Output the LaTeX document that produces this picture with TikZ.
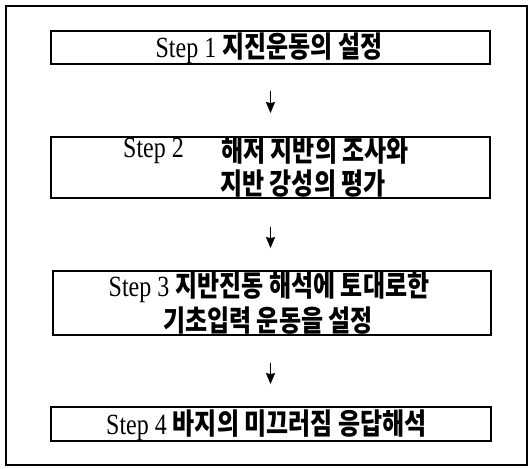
\documentclass[tikz,border=0pt]{standalone}
\usepackage{fontspec}
\setmainfont{Liberation Serif}
\newfontfamily\kr{Noto Sans CJK KR}
\usetikzlibrary{arrows.meta}
\newcommand\tallt[1]{\scalebox{1}[1.22]{#1}}
\newcommand\krb{\kr\bfseries}
\tikzset{
  box/.style={draw, line width=1.8pt, inner sep=0pt},
  lbl/.style={inner sep=0pt, font=\fontsize{24}{28}\selectfont},
  arr/.style={line width=1.6pt, -{Stealth[length=11pt,width=9pt,inset=1pt]}},
  frame/.style={draw, line width=1.3pt}
}
\begin{document}
\begin{tikzpicture}[x=1pt,y=-1pt]
\useasboundingbox (0,0) rectangle (529,468);
\draw[frame] (6,6) rectangle (527,465);
% boxes
\node[box, minimum width=439pt, minimum height=33pt] (b1) at (270.5,47.5) {};
\node[box, minimum width=439pt, minimum height=61pt] (b2) at (270.5,167.5) {};
\node[box, minimum width=438pt, minimum height=64pt] (b3) at (272,303) {};
\node[box, minimum width=440pt, minimum height=34pt] (b4) at (271,424) {};
% texts
\node[lbl] (t1) at (269,48) {\tallt{Step 1 {\krb 지진운동의 설정}}};
\node[lbl, anchor=west] (t2a) at (123,151) {\tallt{Step 2}};
\node[lbl, anchor=west] (t2b) at (221,151) {\tallt{\krb 해저 지반의 조사와}};
\node[lbl, anchor=west] (t2c) at (220,184) {\tallt{\krb 지반 강성의 평가}};
\node[lbl] (t3a) at (269,287) {\tallt{Step 3 {\krb 지반진동 해석에 토대로한}}};
\node[lbl] (t3b) at (268,321) {\tallt{\krb 기초입력 운동을 설정}};
\node[lbl] (t4) at (266.5,425) {\tallt{Step 4 {\krb 바지의 미끄러짐 응답해석}}};
% arrows
\draw[arr, shorten <=26pt, shorten >=23pt] (b1.south) -- (b2.north);
\draw[arr, shorten <=28pt, shorten >=22pt] (b2.south) -- (b2.south |- b3.north);
\draw[arr, shorten <=27pt, shorten >=22pt] (b2.south |- b3.south) -- (b2.south |- b4.north);
\end{tikzpicture}
\end{document}
